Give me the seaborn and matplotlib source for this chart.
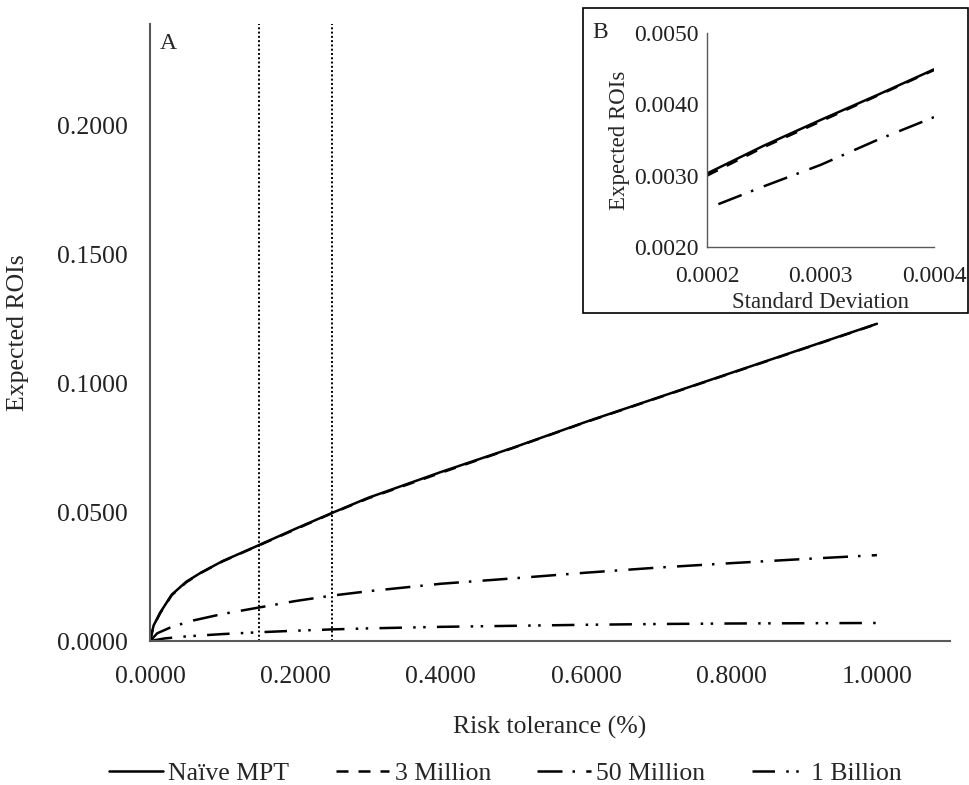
import matplotlib
matplotlib.use("Agg")
import matplotlib.pyplot as plt
import seaborn as sns
from matplotlib.ticker import FormatStrFormatter
from matplotlib.patches import Rectangle

# Panel A : risk tolerance vs expected ROI
naive_x = [0, 0.005, 0.014, 0.03, 0.05, 0.07, 0.1, 0.15, 0.2, 0.25, 0.3, 0.4, 0.5, 0.6, 0.7, 0.8, 0.9, 1.0]
naive_y = [0.0, 0.006, 0.011, 0.018, 0.023, 0.0265, 0.031, 0.0372, 0.0435, 0.0496, 0.0555, 0.0655, 0.075, 0.085, 0.0945, 0.104, 0.1135, 0.123]
m3_x = [0, 0.005, 0.014, 0.03, 0.05, 0.07, 0.1, 0.15, 0.2, 0.25, 0.3, 0.4, 0.5, 0.6, 0.7, 0.8, 0.9, 1.0]
m3_y = [0.0, 0.0058, 0.0108, 0.0178, 0.0228, 0.0264, 0.0309, 0.0371, 0.0433, 0.0495, 0.0553, 0.0652, 0.0749, 0.0849, 0.0944, 0.1039, 0.1134, 0.1229]
m50_x = [0, 0.01, 0.03, 0.06, 0.1, 0.15, 0.2, 0.25, 0.3, 0.4, 0.5, 0.6, 0.7, 0.8, 0.9, 1.0]
m50_y = [0.0, 0.003, 0.0055, 0.008, 0.0105, 0.013, 0.0155, 0.0176, 0.0193, 0.0222, 0.0243, 0.0265, 0.0285, 0.0302, 0.0318, 0.0333]
b1_x = [0, 0.02, 0.05, 0.1, 0.15, 0.2, 0.25, 0.3, 0.4, 0.5, 0.6, 0.7, 0.8, 0.9, 1.0]
b1_y = [0.0, 0.001, 0.0018, 0.0027, 0.0034, 0.004, 0.0045, 0.0049, 0.0055, 0.0059, 0.0063, 0.0066, 0.0068, 0.0069, 0.007]
cutoffs = [0.15, 0.25]

# Panel B : standard deviation vs expected ROI
b_naive_x = [0.0002, 0.00025, 0.0003, 0.00035, 0.0004]
b_naive_y = [0.00303, 0.00342, 0.00378, 0.00413, 0.00449]
b_m3_y = [0.00300, 0.00340, 0.00376, 0.00412, 0.00448]
b_low_x = [0.00021, 0.00025, 0.0003, 0.00035, 0.0004]
b_low_y = [0.0026, 0.00285, 0.00315, 0.0035, 0.00382]

labels = ["Naïve MPT", "3 Million", "50 Million", "1 Billion"]
styles = ["-", (0, (4.8, 4)), (0, (10, 4, 1, 4.5)), (0, (9, 4.5, 1, 3, 1, 4.5))]

sns.set_style("white")
plt.rcParams["font.family"] = ["Liberation Serif", "DejaVu Serif"]

fig = plt.figure(figsize=(9.7, 7.85), dpi=100)
ax = fig.add_axes([0.1546, 0.1834, 0.8244, 0.786])

series = [(naive_x, naive_y), (m3_x, m3_y), (m50_x, m50_y), (b1_x, b1_y)]
for (xs, ys), ls in zip(series, styles):
    sns.lineplot(x=xs, y=ys, ax=ax, color="black", lw=1.8, linestyle=ls, sort=False)
handles = list(ax.lines[:4])

for c in cutoffs:
    ax.axvline(c, color="black", lw=1.4, linestyle=(0, (1, 1.2)))

ax.set_xlim(0, 1.1)
ax.set_ylim(0, 0.2392)
ax.set_xticks([0, 0.2, 0.4, 0.6, 0.8, 1.0])
ax.set_yticks([0, 0.05, 0.1, 0.15, 0.2])
ax.xaxis.set_major_formatter(FormatStrFormatter("%.4f"))
ax.yaxis.set_major_formatter(FormatStrFormatter("%.4f"))
ax.tick_params(axis="both", length=0, labelsize=18.5, colors="#222222")
ax.tick_params(axis="x", pad=18)
ax.tick_params(axis="y", pad=16)
for side in ["top", "right"]:
    ax.spines[side].set_visible(False)
for side in ["left", "bottom"]:
    ax.spines[side].set_color("#595959")
    ax.spines[side].set_linewidth(1.5)
ax.set_xlabel("Risk tolerance (%)", fontsize=18.5, labelpad=20)
ax.set_ylabel("Expected ROIs", fontsize=18.5, labelpad=20)
ax.text(0.012, 0.985, "A", transform=ax.transAxes, fontsize=17, va="top", ha="left")

fig.legend(handles, labels, loc="lower center", bbox_to_anchor=(0.521, -0.03), ncol=4,
           frameon=False, fontsize=18.5, handlelength=2.1, handletextpad=0.2,
           columnspacing=1.8)

# inset frame
fig.patches.append(Rectangle((0.601, 0.601), 0.397, 0.389, transform=fig.transFigure,
                             fill=True, facecolor="white", edgecolor="black", lw=1.2, zorder=2))

axb = fig.add_axes([0.7289, 0.6854, 0.234, 0.2726])
axb.set_zorder(3)
sns.lineplot(x=b_naive_x, y=b_naive_y, ax=axb, color="black", lw=1.8, linestyle=styles[0])
sns.lineplot(x=b_naive_x, y=b_m3_y, ax=axb, color="black", lw=1.8, linestyle=styles[1])
sns.lineplot(x=b_low_x, y=b_low_y, ax=axb, color="black", lw=1.8, linestyle=styles[2])
axb.set_xlim(0.0002, 0.0004)
axb.set_ylim(0.002, 0.005)
axb.set_xticks([0.0002, 0.0003, 0.0004])
axb.set_yticks([0.002, 0.003, 0.004, 0.005])
axb.xaxis.set_major_formatter(FormatStrFormatter("%.4f"))
axb.yaxis.set_major_formatter(FormatStrFormatter("%.4f"))
axb.tick_params(axis="both", length=0, labelsize=17, colors="#222222")
axb.tick_params(axis="x", pad=14)
axb.tick_params(axis="y", pad=6)
for side in ["top", "right"]:
    axb.spines[side].set_visible(False)
for side in ["left", "bottom"]:
    axb.spines[side].set_color("#595959")
    axb.spines[side].set_linewidth(1.0)
axb.set_xlabel("Standard Deviation", fontsize=16.5, labelpad=3)
axb.set_ylabel("Expected ROIs", fontsize=16.5, labelpad=3)
fig.text(0.611, 0.958, "B", fontsize=17, va="center", ha="left")

fig.savefig("out.png", dpi=100)
